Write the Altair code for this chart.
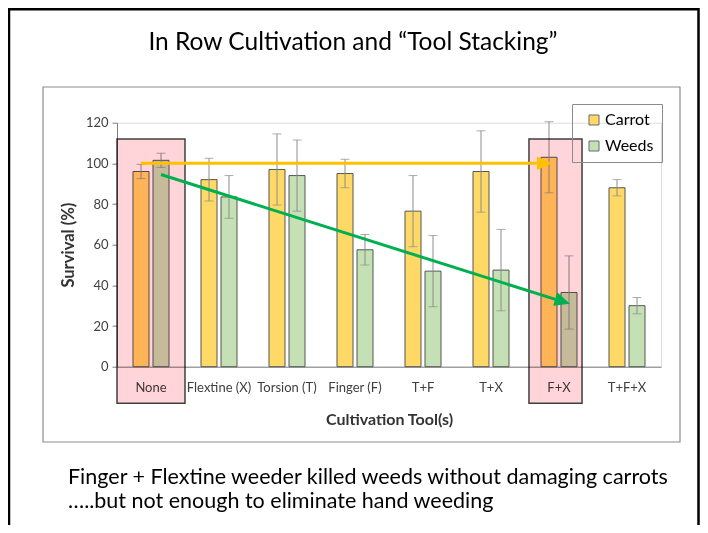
import altair as alt
import pandas as pd

# ---------------- data ----------------
tools = ["None", "Flextine (X)", "Torsion (T)", "Finger (F)", "T+F", "T+X", "F+X", "T+F+X"]
series = ["Carrot", "Weeds"]
carrot = [96, 92, 97, 95, 76.5, 96, 103, 88]
carrot_err = [3.5, 10.5, 17.5, 7, 17.5, 20, 17.5, 4]
weeds = [101.5, 83.5, 94, 57.5, 47, 47.5, 36.5, 30]
weeds_err = [3.5, 10.5, 17.5, 7.5, 17.5, 20, 18, 4]

highlight_tools = ["None", "F+X"]
arrow_from = ["None", "None"]
arrow_to = ["F+X", "F+X"]
arrow_series = ["Carrot", "Weeds"]
arrow_y_start = [100, 94.5]
arrow_y_end = [100, 31]

title_text = "In Row Cultivation and \u201cTool Stacking\u201d"
caption_lines = ["Finger + Flextine weeder killed weeds without damaging carrots",
                 "\u2026..but not enough to eliminate hand weeding"]

FONT = "Lato"
CARROT = "#FFD966"
WEEDS = "#C5E0B4"

rows = []
for t, c, ce, w, we in zip(tools, carrot, carrot_err, weeds, weeds_err):
    rows.append(dict(tool=t, series="Carrot", value=c, lo=c - ce, hi=c + ce))
    rows.append(dict(tool=t, series="Weeds", value=w, lo=w - we, hi=w + we))
df = pd.DataFrame(rows)

xscale = alt.Scale(domain=tools, paddingInner=0, paddingOuter=0)
xaxis = alt.Axis(labelAngle=0, ticks=False, labelFontSize=13, labelPadding=15,
                 titleFontSize=16, titlePadding=17, domainColor="#7f7f7f",
                 labelColor="#404040", titleColor="#333333", titleFontWeight="bold")
yaxis = alt.Axis(values=[0, 20, 40, 60, 80, 100, 120], grid=False, tickSize=5,
                 labelFontSize=13, labelPadding=4, titleFontSize=16.5, titlePadding=9,
                 domainColor="#7f7f7f", tickColor="#7f7f7f", labelColor="#404040",
                 titleColor="#333333", titleFontWeight="bold")
X = alt.X("tool:N", sort=tools, scale=xscale, axis=xaxis, title="Cultivation Tool(s)")
XO = alt.XOffset("series:N", sort=series,
                 scale=alt.Scale(domain=series, paddingInner=0.2, paddingOuter=0.8))
yscale = alt.Scale(domain=[0, 120], nice=False)

base = alt.Chart(df)

NB = "\u00a0"
bars = base.mark_bar(stroke="#555555", strokeWidth=1).encode(
    x=X, xOffset=XO,
    y=alt.Y("value:Q", scale=yscale, axis=yaxis, title="Survival (%)"),
    color=alt.Color("series:N", sort=series,
                    scale=alt.Scale(domain=series, range=[CARROT, WEEDS]),
                    legend=alt.Legend(title=None, orient="none", legendX=455, legendY=-18.7,
                                      strokeColor="#8c8c8c", padding=8, symbolType="square",
                                      symbolSize=100, symbolStrokeColor="#6b6b6b",
                                      symbolStrokeWidth=1, symbolOffset=6, labelOffset=3,
                                      labelFontSize=16, labelFont=FONT, labelColor="#000000",
                                      rowPadding=10,
                                      labelExpr="datum.label == 'Weeds' ? '" + NB + "' + datum.label + '" + NB * 7 + "' : datum.label + '" + NB * 7 + "'")),
)

err = base.mark_rule(color="#8c8c8c", strokeWidth=1).encode(
    x=X, xOffset=XO, y=alt.Y("lo:Q", scale=yscale), y2="hi:Q")
cap_hi = base.mark_tick(color="#8c8c8c", thickness=1, size=9).encode(
    x=X, xOffset=XO, y=alt.Y("hi:Q", scale=yscale))
cap_lo = base.mark_tick(color="#8c8c8c", thickness=1, size=9).encode(
    x=X, xOffset=XO, y=alt.Y("lo:Q", scale=yscale))

# highlight boxes (multiply blend, like a translucent pink overlay)
box_df = pd.DataFrame({"tool": highlight_tools, "top": [112, 112], "bottom": [-18, -18]})
box_none = alt.Chart(box_df[box_df.tool == "None"]).mark_bar(
    fill="#FFD5DA", stroke="#404040", strokeWidth=1.5, blend="multiply",
    width=alt.RelativeBandSize(1.0)).encode(
    x=X, y=alt.Y("top:Q", scale=yscale), y2="bottom:Q")
box_fx = alt.Chart(box_df[box_df.tool == "F+X"]).mark_bar(
    fill="#FFD5DA", stroke="#404040", strokeWidth=1.5, blend="multiply",
    width=alt.RelativeBandSize(0.78), xOffset=-3.5).encode(
    x=X, y=alt.Y("top:Q", scale=yscale), y2="bottom:Q")

# arrows
arr_df = pd.DataFrame({"tool": arrow_from, "tool2": arrow_to, "series": arrow_series,
                       "y1": arrow_y_start, "y2": arrow_y_end})
yel = arr_df[arr_df.series == "Carrot"]
grn = arr_df[arr_df.series == "Weeds"]
arrow_y = alt.Y("y1:Q", scale=yscale)
yel_line = alt.Chart(yel).mark_rule(color="#FFC000", strokeWidth=3, xOffset=-10, x2Offset=-18).encode(
    x=X, x2="tool2:N", y=arrow_y, y2="y2:Q")
grn_line = alt.Chart(grn).mark_rule(color="#00B050", strokeWidth=3, xOffset=10, x2Offset=2, y2Offset=-2.5).encode(
    x=X, x2="tool2:N", y=arrow_y, y2="y2:Q")
HEAD = "M0,0L-2,-0.9L-2,0.9Z"
yel_head = alt.Chart(yel).mark_point(shape=HEAD, filled=True, opacity=1, size=225,
                                     color="#FFC000", xOffset=-7).encode(
    x=alt.X("tool2:N", sort=tools, scale=xscale), y=alt.Y("y2:Q", scale=yscale))
grn_head = alt.Chart(grn).mark_point(shape=HEAD, filled=True, opacity=1, size=240,
                                     color="#00B050", xOffset=11, angle=17.5).encode(
    x=alt.X("tool2:N", sort=tools, scale=xscale), y=alt.Y("y2:Q", scale=yscale))

# slide decoration
one = pd.DataFrame({"title": [title_text], "caption": ["\n".join(caption_lines)]})
slide_frame = alt.Chart(one).mark_rect(fill=None, stroke="#000000", strokeWidth=2.5).encode(
    x=alt.value(-108), x2=alt.value(581.5), y=alt.value(-113.5), y2=alt.value(500))
chart_box = alt.Chart(one).mark_rect(fill=None, stroke="#8c8c8c", strokeWidth=1.2).encode(
    x=alt.value(-74), x2=alt.value(563), y=alt.value(-35.7), y2=alt.value(319.3))
title = alt.Chart(one).mark_text(font=FONT, fontSize=24.5, align="center", baseline="alphabetic",
                                 color="#000000").encode(
    text="title:N", x=alt.value(236), y=alt.value(-73))
caption = alt.Chart(one).mark_text(font=FONT, fontSize=21.5, align="left", baseline="alphabetic",
                                   lineBreak="\n", lineHeight=24, color="#000000").encode(
    text="caption:N", x=alt.value(-49), y=alt.value(361.5))

chart = alt.layer(
    slide_frame, chart_box, title, caption,
    bars, err, cap_hi, cap_lo,
    box_none, box_fx,
    yel_line, grn_line, yel_head, grn_head,
).properties(
    width=544, height=244,
    padding={"left": 109, "top": 114.7, "right": 39, "bottom": 158.3},
    autosize=alt.AutoSizeParams(type="none"),
).configure_view(stroke=None).configure(font=FONT)

chart.save("out.html", embed_options={"renderer": "svg", "actions": False})
